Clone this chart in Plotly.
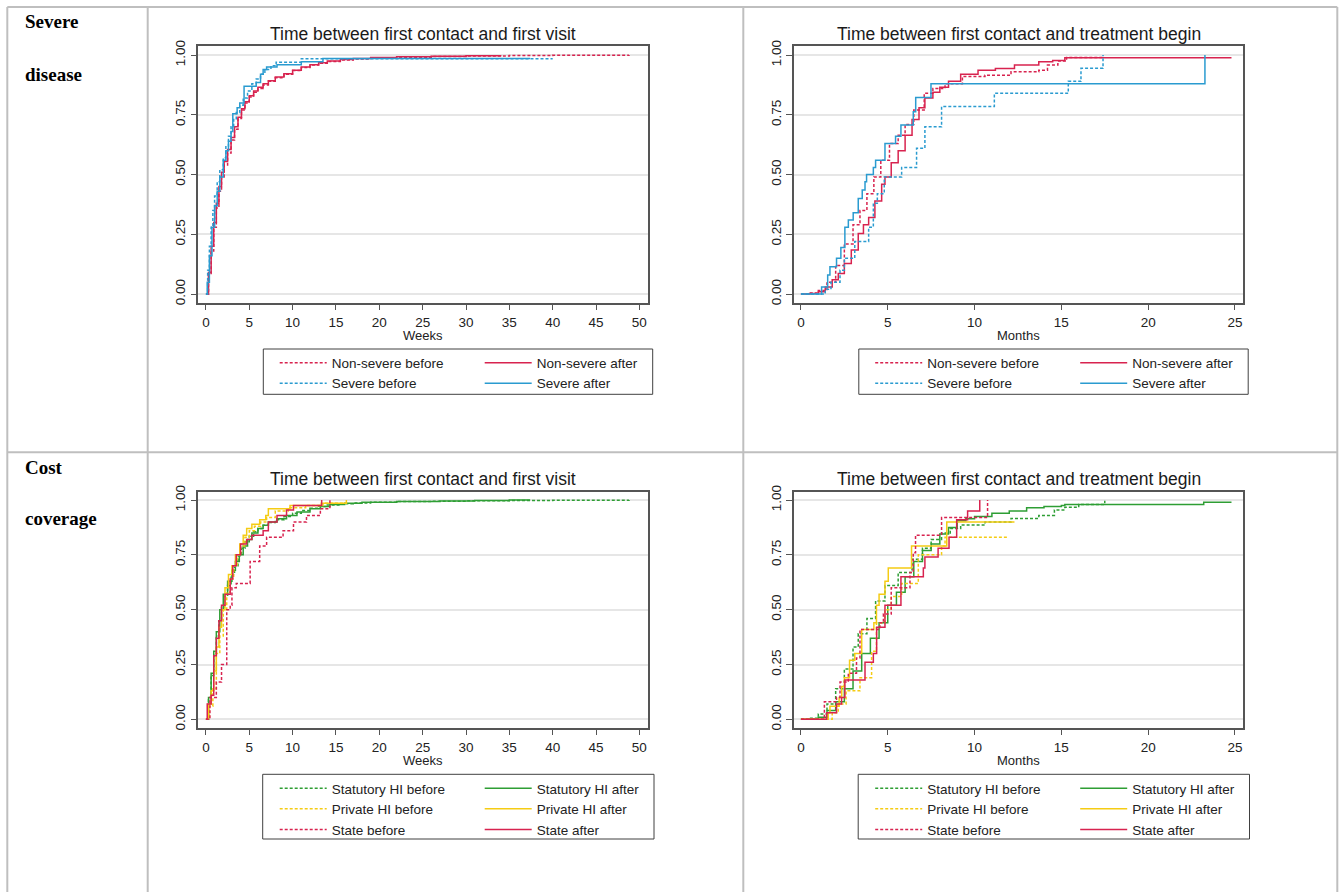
import plotly.graph_objects as go

W, H = 1340, 892

# ---------------- data ----------------
weeks_ticks = [0, 5, 10, 15, 20, 25, 30, 35, 40, 45, 50]
months_ticks = [0, 5, 10, 15, 20, 25]
y_ticks = [0, 0.25, 0.5, 0.75, 1.0]
y_ticktext = ["0.00", "0.25", "0.50", "0.75", "1.00"]

# Panel A: severe disease, first visit (weeks)
ns_before_wk_x = [0, 0.3, 0.6, 0.9, 1.2, 1.5, 1.8, 2.1, 2.5, 2.9, 3.3, 3.7, 4.1, 4.5, 5.0, 5.5, 6.0, 6.6, 7.2, 8.0, 9.0, 10.0, 11.0, 12.0, 13.0, 14.0, 15.5, 17.0, 19.0, 22.0, 26.0, 30.0, 35.0, 40.0, 48.8]
ns_before_wk_y = [0, 0.08, 0.18, 0.28, 0.36, 0.43, 0.49, 0.54, 0.59, 0.645, 0.69, 0.735, 0.77, 0.80, 0.825, 0.845, 0.86, 0.875, 0.89, 0.905, 0.92, 0.935, 0.948, 0.958, 0.966, 0.973, 0.979, 0.984, 0.988, 0.991, 0.994, 0.996, 0.998, 0.999, 1.0]
ns_after_wk_x = [0, 0.3, 0.6, 0.9, 1.2, 1.5, 1.8, 2.1, 2.5, 2.9, 3.3, 3.7, 4.1, 4.5, 5.0, 5.5, 6.0, 6.6, 7.2, 8.0, 9.0, 10.0, 11.0, 12.0, 13.0, 14.0, 15.5, 17.0, 19.0, 22.0, 26.0, 30.0, 34.0]
ns_after_wk_y = [0, 0.09, 0.20, 0.30, 0.38, 0.45, 0.51, 0.555, 0.605, 0.655, 0.70, 0.74, 0.775, 0.805, 0.83, 0.85, 0.865, 0.88, 0.893, 0.908, 0.922, 0.937, 0.95, 0.96, 0.968, 0.975, 0.981, 0.986, 0.99, 0.993, 0.995, 0.997, 1.0]
sev_before_wk_x = [0, 0.2, 0.4, 0.6, 0.8, 1.0, 1.3, 1.6, 2.0, 2.3, 2.6, 2.9, 3.2, 3.5, 3.9, 4.3, 4.8, 5.3, 5.8, 6.3, 6.8, 7.5, 8.1, 11.0, 40.0]
sev_before_wk_y = [0, 0.10, 0.20, 0.28, 0.35, 0.41, 0.47, 0.52, 0.57, 0.62, 0.66, 0.70, 0.73, 0.76, 0.79, 0.82, 0.85, 0.88, 0.90, 0.92, 0.94, 0.955, 0.97, 0.985, 0.985]
sev_after_wk_x = [0, 0.15, 0.4, 0.7, 1.0, 1.3, 1.6, 2.0, 2.3, 2.6, 2.9, 3.1, 3.6, 3.9, 4.4, 5.8, 6.3, 6.6, 7.0, 8.2, 11.0, 13.5, 37.4]
sev_after_wk_y = [0, 0.05, 0.16, 0.28, 0.37, 0.43, 0.49, 0.56, 0.60, 0.64, 0.68, 0.755, 0.78, 0.80, 0.87, 0.885, 0.92, 0.94, 0.95, 0.96, 0.972, 0.986, 0.986]

# Panel B: severe disease, treatment begin (months)
ns_before_mo_x = [0, 0.5, 1.0, 1.5, 2.0, 2.5, 3.0, 3.4, 3.8, 4.2, 4.6, 5.1, 5.6, 6.0, 6.5, 7.1, 7.6, 8.3, 9.3, 10.6, 12.1, 13.7, 14.2, 14.8, 15.3, 17.4]
ns_before_mo_y = [0, 0.005, 0.015, 0.05, 0.12, 0.21, 0.29, 0.35, 0.42, 0.49, 0.56, 0.63, 0.665, 0.71, 0.77, 0.84, 0.86, 0.88, 0.91, 0.916, 0.93, 0.937, 0.958, 0.975, 0.99, 0.99]
ns_after_mo_x = [0, 0.5, 1.0, 1.4, 1.8, 2.15, 2.5, 2.9, 3.3, 3.6, 3.9, 4.26, 4.65, 4.84, 5.2, 5.6, 6.0, 6.4, 6.8, 7.14, 7.6, 8.0, 8.5, 9.2, 10.2, 11.2, 12.3, 13.7, 14.5, 15.2, 24.8]
ns_after_mo_y = [0, 0.003, 0.01, 0.03, 0.06, 0.086, 0.128, 0.184, 0.254, 0.29, 0.32, 0.39, 0.46, 0.49, 0.55, 0.60, 0.665, 0.73, 0.78, 0.82, 0.845, 0.865, 0.89, 0.92, 0.937, 0.944, 0.958, 0.972, 0.977, 0.989, 0.989]
sev_before_mo_x = [0, 1.4, 1.73, 2.25, 2.5, 3.1, 3.9, 4.17, 4.4, 4.8, 5.8, 6.66, 7.14, 8.1, 11.14, 15.4, 16.13, 17.4]
sev_before_mo_y = [0, 0.02, 0.05, 0.10, 0.15, 0.22, 0.28, 0.38, 0.42, 0.49, 0.53, 0.61, 0.70, 0.785, 0.84, 0.89, 0.945, 1.0]
sev_after_mo_x = [0, 1.19, 1.54, 1.67, 2.05, 2.30, 2.53, 2.73, 3.01, 3.30, 3.53, 3.69, 3.78, 4.17, 4.30, 4.84, 5.45, 5.76, 6.47, 6.61, 7.49, 23.27]
sev_after_mo_y = [0, 0.03, 0.08, 0.114, 0.15, 0.195, 0.28, 0.31, 0.34, 0.40, 0.435, 0.47, 0.50, 0.53, 0.56, 0.63, 0.66, 0.707, 0.763, 0.823, 0.88, 1.0]

# Panel C: cost coverage, first visit (weeks)
stat_before_wk_x = [0, 0.3, 0.6, 0.9, 1.2, 1.5, 1.8, 2.1, 2.5, 2.9, 3.3, 3.7, 4.1, 4.5, 5.0, 5.5, 6.0, 6.6, 7.2, 8.0, 9.0, 10.0, 11.0, 12.0, 13.0, 14.0, 15.5, 17.0, 19.0, 22.0, 26.0, 30.0, 35.0, 40.0, 48.8]
stat_before_wk_y = [0, 0.09, 0.20, 0.30, 0.38, 0.45, 0.51, 0.56, 0.61, 0.66, 0.70, 0.745, 0.78, 0.81, 0.835, 0.855, 0.87, 0.885, 0.898, 0.91, 0.925, 0.94, 0.952, 0.962, 0.97, 0.977, 0.983, 0.987, 0.99, 0.993, 0.995, 0.997, 0.998, 0.999, 1.0]
stat_after_wk_x = [0, 0.3, 0.6, 0.9, 1.2, 1.6, 2.0, 2.5, 3.0, 3.4, 3.85, 4.3, 4.8, 5.3, 6.0, 6.6, 7.2, 8.2, 9.3, 10.5, 12.0, 13.2, 14.3, 16.0, 18.0, 22.0, 27.0, 31.0, 35.0, 37.4]
stat_after_wk_y = [0, 0.10, 0.21, 0.31, 0.40, 0.50, 0.57, 0.63, 0.68, 0.72, 0.75, 0.79, 0.82, 0.85, 0.87, 0.885, 0.90, 0.915, 0.93, 0.945, 0.96, 0.97, 0.98, 0.985, 0.99, 0.993, 0.996, 0.998, 1.0, 1.0]
priv_before_wk_x = [0, 0.4, 0.8, 1.2, 1.6, 2.0, 2.4, 2.8, 3.2, 3.6, 4.0, 4.5, 5.0, 5.6, 6.3, 7.0, 8.0, 9.5, 11.5, 13.5, 16.2]
priv_before_wk_y = [0, 0.06, 0.14, 0.30, 0.38, 0.50, 0.58, 0.64, 0.70, 0.75, 0.79, 0.83, 0.86, 0.88, 0.90, 0.92, 0.95, 0.965, 0.975, 0.985, 0.99]
priv_after_wk_x = [0, 0.3, 0.6, 0.9, 1.2, 1.5, 1.8, 2.2, 2.6, 3.0, 3.4, 3.9, 4.3, 4.7, 5.3, 6.2, 6.9, 7.2, 9.7, 13.3, 16.2]
priv_after_wk_y = [0, 0.07, 0.13, 0.22, 0.33, 0.42, 0.50, 0.60, 0.66, 0.70, 0.75, 0.80, 0.84, 0.87, 0.89, 0.91, 0.93, 0.96, 0.975, 0.985, 1.0]
state_before_wk_x = [0, 0.46, 1.2, 1.8, 2.4, 2.8, 3.0, 3.5, 5.1, 6.2, 7.0, 8.9, 10.1, 11.6, 13.2, 14.3]
state_before_wk_y = [0, 0.10, 0.17, 0.25, 0.50, 0.52, 0.60, 0.62, 0.72, 0.79, 0.83, 0.86, 0.90, 0.93, 0.96, 1.0]
state_after_wk_x = [0, 0.15, 0.6, 0.9, 1.2, 1.5, 1.8, 2.2, 2.8, 3.1, 3.5, 4.0, 4.7, 5.3, 6.6, 7.2, 8.2, 9.3, 10.1, 13.35]
state_after_wk_y = [0, 0.07, 0.11, 0.29, 0.37, 0.45, 0.52, 0.57, 0.64, 0.70, 0.75, 0.80, 0.82, 0.84, 0.86, 0.90, 0.93, 0.955, 0.975, 1.0]

# Panel D: cost coverage, treatment begin (months)
stat_before_mo_x = [0, 0.5, 1.0, 1.5, 2.0, 2.5, 3.0, 3.3, 3.8, 4.3, 4.84, 5.6, 6.4, 7.0, 7.5, 8.1, 8.6, 9.2, 10.6, 12.1, 13.7, 14.6, 15.2, 16.0, 17.5]
stat_before_mo_y = [0, 0.005, 0.025, 0.07, 0.14, 0.23, 0.33, 0.39, 0.46, 0.54, 0.61, 0.67, 0.73, 0.78, 0.82, 0.85, 0.87, 0.886, 0.90, 0.916, 0.93, 0.955, 0.967, 0.98, 0.997]
stat_after_mo_x = [0, 0.5, 1.0, 1.5, 2.0, 2.5, 3.0, 3.5, 4.0, 4.5, 5.0, 5.5, 6.0, 6.5, 7.0, 7.5, 8.0, 8.5, 9.0, 9.5, 10.0, 11.0, 12.0, 13.0, 14.0, 15.0, 15.2, 23.2, 24.8]
stat_after_mo_y = [0, 0.003, 0.01, 0.04, 0.08, 0.14, 0.22, 0.30, 0.37, 0.44, 0.52, 0.58, 0.65, 0.72, 0.77, 0.80, 0.845, 0.875, 0.905, 0.915, 0.925, 0.94, 0.95, 0.965, 0.97, 0.975, 0.98, 0.99, 0.99]
priv_before_mo_x = [0, 1.8, 2.15, 2.6, 3.4, 4.07, 4.35, 4.84, 5.2, 5.8, 6.76, 8.1, 8.3, 11.9]
priv_before_mo_y = [0, 0.03, 0.07, 0.13, 0.19, 0.31, 0.44, 0.50, 0.56, 0.62, 0.75, 0.79, 0.83, 0.83]
priv_after_mo_x = [0, 1.57, 1.67, 2.2, 2.35, 2.5, 2.8, 3.1, 3.5, 4.2, 4.35, 4.5, 4.84, 5.03, 6.37, 8.4, 12.3]
priv_after_mo_y = [0, 0.03, 0.06, 0.10, 0.15, 0.19, 0.27, 0.30, 0.41, 0.44, 0.52, 0.57, 0.63, 0.69, 0.79, 0.90, 0.90]
state_before_mo_x = [0, 1.35, 2.05, 2.25, 2.73, 3.2, 3.4, 4.55, 4.75, 5.2, 6.28, 6.47, 6.6, 8.1, 10.75]
state_before_mo_y = [0, 0.08, 0.10, 0.17, 0.21, 0.28, 0.41, 0.44, 0.48, 0.60, 0.67, 0.76, 0.84, 0.92, 1.0]
state_after_mo_x = [0, 1.48, 2.05, 2.34, 2.53, 3.69, 4.17, 4.36, 4.84, 5.76, 7.05, 7.14, 7.9, 8.53, 8.97, 9.6, 10.3]
state_after_mo_y = [0, 0.03, 0.07, 0.10, 0.18, 0.26, 0.30, 0.42, 0.52, 0.65, 0.69, 0.74, 0.78, 0.83, 0.91, 0.95, 1.0]

panel_titles = ["Time between first contact and first visit", "Time between first contact and treatment begin"]
axis_titles = ["Weeks", "Months"]
row_labels = [["Severe", "disease"], ["Cost", "coverage"]]

# ---------------- style ----------------
RED = "#d8234f"
BLUE = "#2a9bd0"
GREEN = "#2e9e34"
YELLOW = "#f5cc14"
DOT = "3px,2px"
FONT = "Liberation Sans, Arial, sans-serif"
GRID = "#bfbfbf"

def fx(px):
    return px / W

def fy(py):
    return 1 - py / H

# plot areas in pixels: (left, right, top, bottom)
areas = {
    "A": (198.3, 647.7, 46.0, 302.7),
    "B": (794.0, 1243.3, 46.0, 302.7),
    "C": (198.3, 647.7, 491.7, 727.7),
    "D": (794.0, 1243.3, 491.7, 727.7),
}
axis_ids = {"A": ("x", "y"), "B": ("x2", "y2"), "C": ("x3", "y3"), "D": ("x4", "y4")}
xranges = {"A": [-0.88, 50.96], "B": [-0.40, 25.48], "C": [-0.88, 50.96], "D": [-0.40, 25.48]}
yranges = {"A": [-0.036, 1.038], "B": [-0.036, 1.038], "C": [-0.038, 1.038], "D": [-0.038, 1.038]}
xticks = {"A": weeks_ticks, "B": months_ticks, "C": weeks_ticks, "D": months_ticks}

fig = go.Figure()

def add(panel, xs, ys, name, color, dotted, legend):
    xa, ya = axis_ids[panel]
    fig.add_trace(go.Scatter(
        x=xs, y=ys, name=name, mode="lines", line_shape="hv",
        line=dict(color=color, width=1.5, dash=DOT if dotted else "solid"),
        xaxis=xa, yaxis=ya, legend=legend, hoverinfo="skip"))

for p, xs_sfx, lg in [("A", "wk", ("legend", "legend2")), ("B", "mo", ("legend3", "legend4"))]:
    g = globals()
    add(p, g[f"ns_before_{xs_sfx}_x"], g[f"ns_before_{xs_sfx}_y"], "Non-severe before", RED, True, lg[0])
    add(p, g[f"ns_after_{xs_sfx}_x"], g[f"ns_after_{xs_sfx}_y"], "Non-severe after", RED, False, lg[1])
    add(p, g[f"sev_before_{xs_sfx}_x"], g[f"sev_before_{xs_sfx}_y"], "Severe before", BLUE, True, lg[0])
    add(p, g[f"sev_after_{xs_sfx}_x"], g[f"sev_after_{xs_sfx}_y"], "Severe after", BLUE, False, lg[1])

for p, xs_sfx, lg in [("C", "wk", ("legend5", "legend6")), ("D", "mo", ("legend7", "legend8"))]:
    g = globals()
    add(p, g[f"stat_before_{xs_sfx}_x"], g[f"stat_before_{xs_sfx}_y"], "Statutory HI before", GREEN, True, lg[0])
    add(p, g[f"stat_after_{xs_sfx}_x"], g[f"stat_after_{xs_sfx}_y"], "Statutory HI after", GREEN, False, lg[1])
    add(p, g[f"priv_before_{xs_sfx}_x"], g[f"priv_before_{xs_sfx}_y"], "Private HI before", YELLOW, True, lg[0])
    add(p, g[f"priv_after_{xs_sfx}_x"], g[f"priv_after_{xs_sfx}_y"], "Private HI after", YELLOW, False, lg[1])
    add(p, g[f"state_before_{xs_sfx}_x"], g[f"state_before_{xs_sfx}_y"], "State before", RED, True, lg[0])
    add(p, g[f"state_after_{xs_sfx}_x"], g[f"state_after_{xs_sfx}_y"], "State after", RED, False, lg[1])

layout = dict(
    width=W, height=H, margin=dict(l=0, r=0, t=0, b=0, pad=0, autoexpand=False),
    paper_bgcolor="white", plot_bgcolor="white",
    font=dict(family=FONT, color="#222"),
    showlegend=True,
)

AX = "#555555"
for p, (l, r, t, b) in areas.items():
    xa, ya = axis_ids[p]
    xk = "xaxis" + xa[1:]
    yk = "yaxis" + ya[1:]
    layout[xk] = dict(
        domain=[fx(l), fx(r)], range=xranges[p], anchor=ya,
        tickvals=xticks[p], ticks="outside", ticklen=6, tickwidth=1.3, tickcolor=AX,
        showline=True, linecolor=AX, linewidth=1.5, mirror=True,
        showgrid=False, zeroline=False, tickfont=dict(size=13.5, color="#222"),
    )
    layout[yk] = dict(
        domain=[fy(b), fy(t)], range=yranges[p], anchor=xa,
        tickvals=y_ticks, ticktext=y_ticktext, tickangle=-90,
        ticks="outside", ticklen=6, tickwidth=1.3, tickcolor=AX,
        showline=True, linecolor=AX, linewidth=1.5, mirror=True,
        showgrid=True, gridcolor="#e6e6e6", gridwidth=1.5, zeroline=False,
        tickfont=dict(size=13.5, color="#222"),
    )

# legends (two columns per panel)
leg_font = dict(size=13.5, family=FONT, color="#222")
IW = 47
dx = 57  # text offset from legend left edge (itemwidth + 10)
leg_pos = {
    "legend": (331.7 - dx, 347.4), "legend2": (536.7 - dx, 347.4),
    "legend3": (927.2 - dx, 347.4), "legend4": (1132.2 - dx, 347.4),
    "legend5": (331.7 - dx, 773.0), "legend6": (536.7 - dx, 773.0),
    "legend7": (927.2 - dx, 773.0), "legend8": (1132.2 - dx, 773.0),
}
for k, (lx, ly) in leg_pos.items():
    layout[k] = dict(x=fx(lx), y=fy(ly), xanchor="left", yanchor="top",
                     orientation="v", bgcolor="rgba(0,0,0,0)", borderwidth=0,
                     font=leg_font, tracegroupgap=0, itemwidth=IW,
                     itemclick=False, itemdoubleclick=False)

shapes = []
def hline(y, x0, x1):
    shapes.append(dict(type="line", xref="paper", yref="paper", x0=fx(x0), x1=fx(x1), y0=fy(y), y1=fy(y),
                       line=dict(color=GRID, width=2), layer="below"))
def vline(x, y0, y1):
    shapes.append(dict(type="line", xref="paper", yref="paper", x0=fx(x), x1=fx(x), y0=fy(y0), y1=fy(y1),
                       line=dict(color=GRID, width=2), layer="below"))
hline(7.0, 7.3, 1337.3)
hline(452.3, 7.3, 1337.3)
vline(7.3, 7.0, 892)
vline(147.7, 7.0, 892)
vline(743.3, 7.0, 892)
vline(1337.3, 7.0, 892)

for (x0, x1, y0, y1) in [(263.3, 652.7, 349.0, 394.3), (858.8, 1248.2, 349.0, 394.3),
                         (262.7, 654.0, 774.3, 839.0), (858.2, 1249.5, 774.3, 839.0)]:
    shapes.append(dict(type="rect", xref="paper", yref="paper", x0=fx(x0), x1=fx(x1), y0=fy(y1), y1=fy(y0),
                       line=dict(color="#404040", width=1), fillcolor="rgba(0,0,0,0)", layer="above"))
layout["shapes"] = shapes

annotations = []
for i, p in enumerate(["A", "B", "C", "D"]):
    l, r, t, b = areas[p]
    cx = (l + r) / 2
    ty = 33.7 if t < 100 else 478.5
    annotations.append(dict(text=panel_titles[i % 2], x=fx(cx), y=fy(ty), xref="paper", yref="paper",
                            xanchor="center", yanchor="middle", showarrow=False,
                            font=dict(size=17.5, family=FONT, color="#1a1a1a")))
    annotations.append(dict(text=axis_titles[i % 2], x=fx(cx), y=fy(b + 33.0), xref="paper", yref="paper",
                            xanchor="center", yanchor="middle", showarrow=False,
                            font=dict(size=13, family=FONT, color="#222")))

for (words, ys) in [(row_labels[0], (21.7, 75.0)), (row_labels[1], (467.0, 518.6))]:
    for w_, yy in zip(words, ys):
        annotations.append(dict(text="<b>" + w_ + "</b>", x=fx(23.3), y=fy(yy), xref="paper", yref="paper",
                                xanchor="left", yanchor="middle", showarrow=False,
                                font=dict(size=19, family="Liberation Serif, Times New Roman, serif", color="#000")))
layout["annotations"] = annotations

fig.update_layout(**layout)
fig.write_html("out.html")
